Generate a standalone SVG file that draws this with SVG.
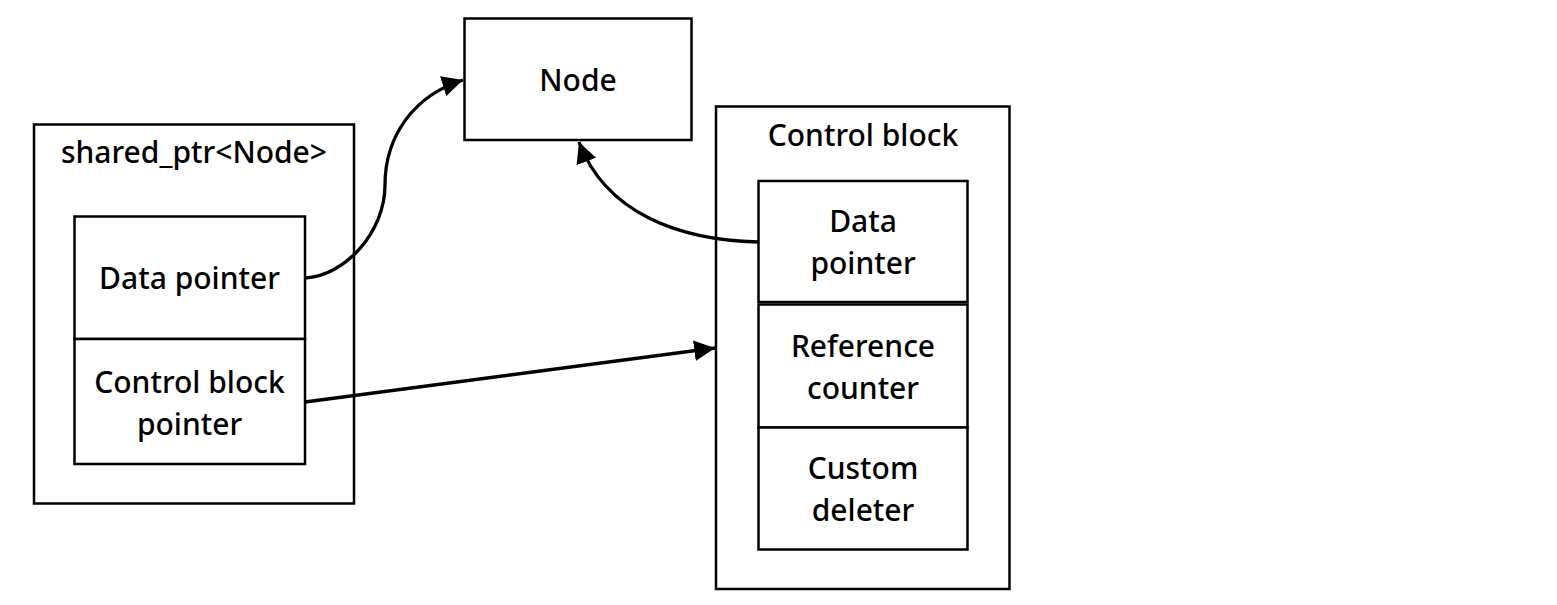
<svg xmlns="http://www.w3.org/2000/svg" width="1557" height="605" viewBox="0 0 1557 605">
<style>
.box{fill:#fff;stroke:#000;stroke-width:2.5}
.t{font-family:"Noto Sans","Open Sans","DejaVu Sans",sans-serif;font-size:30px;font-weight:500;fill:#000;text-anchor:middle}
.c{fill:none;stroke:#000;stroke-width:3.3}
</style>
<defs>
<marker id="ah" viewBox="0 0 10 10" refX="10" refY="5" markerWidth="6.3" markerHeight="6.3" markerUnits="strokeWidth" orient="auto">
<path d="M0,0 L10,5 L0,10 z" fill="#000"/>
</marker>
</defs>
<rect width="1557" height="605" fill="#fff"/>
<g id="shared_ptr">
<rect class="box" x="34" y="124.5" width="320" height="379"/>
<text class="t" x="194" y="163">shared_ptr&lt;Node&gt;</text>
</g>
<g id="sp_data">
<rect class="box" x="74.5" y="216.5" width="230.5" height="122.5"/>
<text class="t" x="189.5" y="289">Data pointer</text>
</g>
<g id="sp_ctrl">
<rect class="box" x="74.5" y="339" width="230.5" height="125"/>
<text class="t" x="189.5" y="393">Control block</text>
<text class="t" x="189.5" y="435">pointer</text>
</g>
<g id="node">
<rect class="box" x="464.5" y="18.5" width="227" height="121.5"/>
<text class="t" x="578" y="91">Node</text>
</g>
<g id="control_block">
<rect class="box" x="716" y="106.5" width="293.5" height="482.5"/>
<text class="t" x="863" y="146">Control block</text>
</g>
<g id="cb_data">
<rect class="box" x="758.5" y="181" width="209" height="121"/>
<text class="t" x="863" y="232">Data</text>
<text class="t" x="863" y="274">pointer</text>
</g>
<g id="cb_ref">
<rect class="box" x="758.5" y="304.5" width="209" height="123"/>
<text class="t" x="863" y="357">Reference</text>
<text class="t" x="863" y="399">counter</text>
</g>
<g id="cb_del">
<rect class="box" x="758.5" y="427.5" width="209" height="122"/>
<text class="t" x="863" y="479">Custom</text>
<text class="t" x="863" y="521">deleter</text>
</g>
<g id="connectors">
<path class="c" marker-end="url(#ah)" d="M305,278 C345,276 385,232 385,185 C385,135 415,95 463,80"/>
<path class="c" marker-end="url(#ah)" d="M758,242 C680,240 606,214 579,142"/>
<path class="c" marker-end="url(#ah)" d="M305,402 L715,348"/>
</g>
</svg>
